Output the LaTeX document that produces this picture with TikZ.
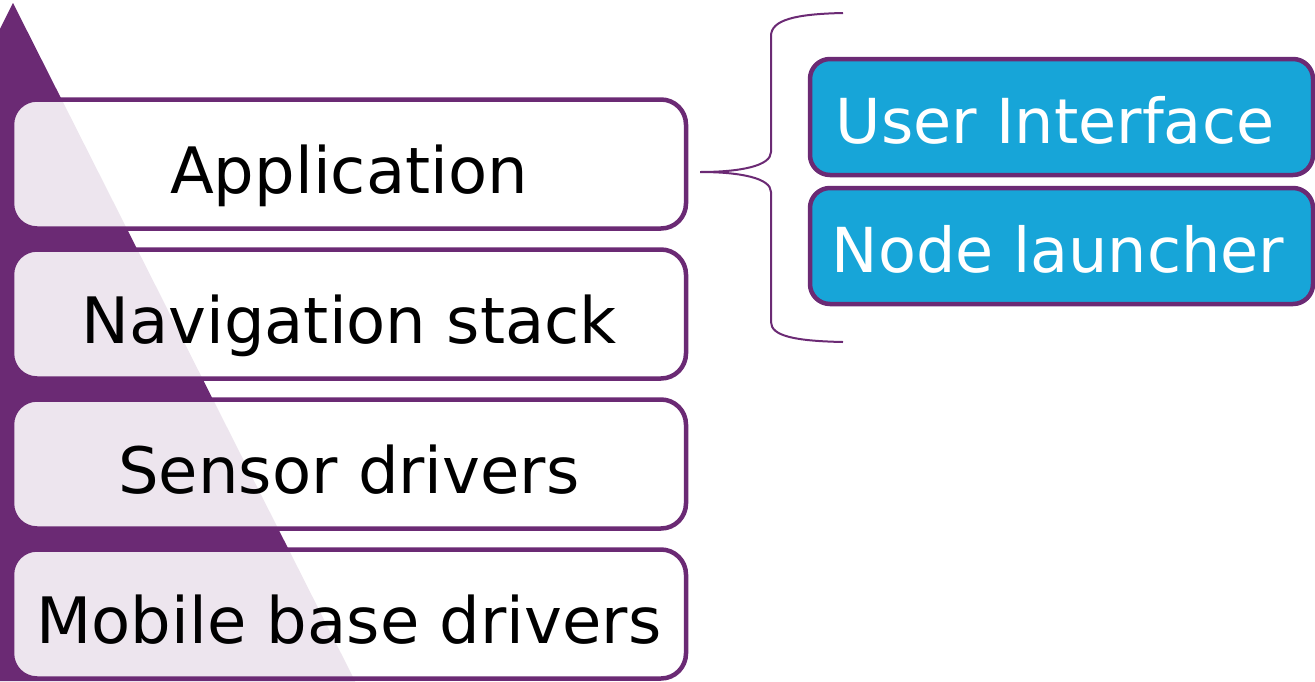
\documentclass[tikz,border=0pt]{standalone}
\usepackage{fontspec}
\setmainfont{DejaVu Sans}
\definecolor{layerpurple}{HTML}{6B2A74}
\definecolor{moduleblue}{HTML}{17A5D8}
\tikzset{
  layer/.style={draw=layerpurple, line width=4.5pt, rounded corners=25pt, fill=white, fill opacity=0.88, text opacity=1,
    minimum width=674pt, minimum height=129pt, inner sep=0pt, text height=58pt, text depth=0pt,
    font=\fontsize{64}{76}\selectfont},
  module/.style={draw=layerpurple, line width=4.5pt, rounded corners=20pt, fill=moduleblue, text=white,
    minimum width=503pt, minimum height=116pt, inner sep=0pt, text height=52pt, text depth=0pt,
    font=\fontsize{62}{74}\selectfont}
}
\begin{document}
\begin{tikzpicture}[x=1pt, y=-1pt]
      \useasboundingbox (0,0) rectangle (1315,681);
      \clip (0,0) rectangle (1315,681);

      %triangle
      \fill[layerpurple] (13,3) -- (355,681) -- (-329,681) -- cycle;

      %layers
      \node[layer, name=app   ] at (349,164) {Application};
      \node[layer, name=nav   ] at (349,314) {Navigation stack};
      \node[layer, name=sensor] at (349,464) {Sensor drivers};
      \node[layer, name=base  ] at (349,614) {Mobile base drivers};

      %modules
      \node[module, name=ui    ] at (1061.5,117) {\hspace{-13pt}User Interface};
      \node[module, name=launch] at (1061.5,246) {\hspace{-7pt}Node launcher};

      %brace
      \coordinate (bracetip) at (700,172);
      \draw[layerpurple, line width=2pt]
        (843,13) .. controls (795,14) and (771,20) .. (771,36) -- (771,152)
        .. controls (771,166) and (740,172) .. (bracetip)
        .. controls (740,172) and (771,178) .. (771,192) -- (771,322)
        .. controls (771,336) and (795,341) .. (843,342);
\end{tikzpicture}
\end{document}
